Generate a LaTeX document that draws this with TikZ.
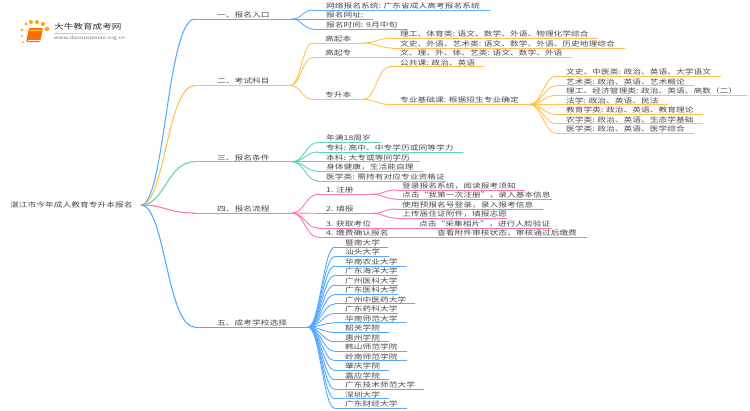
\documentclass[tikz,border=0pt]{standalone}
\usepackage{fontspec}
\setmainfont[FakeStretch=1.3]{Noto Sans CJK SC}
\definecolor{cA}{HTML}{5AAEFF}
\definecolor{cB}{HTML}{FFC24F}
\definecolor{cC}{HTML}{5FD8A4}
\definecolor{cD}{HTML}{FF74AC}
\definecolor{cE}{HTML}{55A9FF}
\definecolor{ink}{HTML}{4A4A4A}
\tikzset{
  label text/.style={anchor=base west,inner sep=0pt,text=ink,font=\fontsize{6.72}{8}\selectfont,yshift=1.6pt},
  rule line/.style={line width=0.9pt,line cap=round},
  link line/.style={line width=0.9pt},
  trunk line/.style={line width=1.1pt}
}
% name, start x, end x, y, text x, text, colour
\newcommand{\topic}[7]{%
  \coordinate (#1-s) at (#2,#4);
  \coordinate (#1-e) at (#3,#4);
  \node[label text] (#1) at (#5,#4) {#6};
  \draw[rule line,#7] (#1-s) -- (#1-e);
}
% from, to, colour, control distance
\newcommand{\linkto}[4]{%
  \draw[link line,#3] (#1-e) .. controls +(#4,0) and +(-#4,0) .. (#2-s);
}
\newcommand{\trunkto}[2]{%
  \draw[trunk line,#2] (root-e) .. controls +(24,0) and +(-28,0) .. (#1-s);
}
\begin{document}
\begin{tikzpicture}[x=1pt,y=-1pt]
\useasboundingbox (0,0) rectangle (750,410);
\fill[white] (0,0) rectangle (750,410);

% logo
\foreach \px/\py/\r in {22/30/1.4,26/24/1.7,31/22/2,37/22/2,43/24/2,47/29/2.2,22/36/1.2,23/42/1}
  \fill[orange!70!yellow] (\px,\py) circle (\r);
\fill[orange!85!red,rounded corners=1.2pt] (29,28) -- (43,28) -- (40,42) -- (26,42) -- cycle;
\fill[orange!45!yellow] (30,29.5) -- (41.5,29.5) -- (41,31) -- (29.6,31) -- cycle;
\draw[white,line width=0.4pt] (27.5,40) -- (39.5,40);
\node[anchor=west,inner sep=0pt,text=black!80,font=\fontsize{7.4}{9}\selectfont] (brand) at (54,27) {大牛教育成考网};
\node[anchor=west,inner sep=0pt,text=black!55,font=\fontsize{4.5}{6}\selectfont] (site) at (54,38.5) {www.daniuxuexiao.org.cn};
\shade[left color=black!25,right color=white] (54,33) rectangle (132,33.5);

% root
\node[anchor=west,inner sep=0pt,text=ink,font=\fontsize{6.72}{8}\selectfont] (root) at (10,205) {湛江市今年成人教育专升本报名};
\coordinate (root-e) at (141,205);

% branch 1
\topic{b1}{195}{292}{19}{217}{一、报名入口}{cA}
\trunkto{b1}{cA}
\topic{b1a}{313}{490}{10}{326}{网络报名系统: 广东省成人高考报名系统}{cA}
\topic{b1b}{313}{373}{19}{326}{报名网址:}{cA}
\topic{b1c}{313}{407}{29}{326}{报名时间: 9月中旬}{cA}
\linkto{b1}{b1a}{cA}{10}
\linkto{b1}{b1b}{cA}{10}
\linkto{b1}{b1c}{cA}{10}

% branch 2
\topic{b2}{195}{290}{85.5}{217}{二、考试科目}{cB}
\trunkto{b2}{cB}
\topic{b2a}{313}{363}{43}{325}{高起本}{cB}
\topic{b2b}{313}{572}{57.5}{325}{高起专}{cB}
\node[label text] (b2b1) at (400,57.5) {文、理、外、体、艺类: 语文、数学、外语};
\topic{b2c}{313}{363}{99.5}{325}{专升本}{cB}
\linkto{b2}{b2a}{cB}{11}
\linkto{b2}{b2b}{cB}{11}
\linkto{b2}{b2c}{cB}{11}
\topic{b2a1}{392}{598}{38}{400}{理工、体育类: 语文、数学、外语、物理化学综合}{cB}
\topic{b2a2}{392}{625}{48}{400}{文史、外语、艺术类: 语文、数学、外语、历史地理综合}{cB}
\linkto{b2a}{b2a1}{cB}{13}
\linkto{b2a}{b2a2}{cB}{13}
\topic{b2c1}{390}{484}{66.7}{400}{公共课: 政治、英语}{cB}
\topic{b2c2}{390}{530}{104.5}{400}{专业基础课: 根据招生专业确定}{cB}
\linkto{b2c}{b2c1}{cB}{13}
\linkto{b2c}{b2c2}{cB}{13}
\topic{m1}{556}{721}{76}{566}{文史、中医类: 政治、英语、大学语文}{cB}
\topic{m2}{556}{694}{85.7}{566}{艺术类: 政治、英语、艺术概论}{cB}
\topic{m3}{556}{747}{95.3}{566}{理工、经济管理类: 政治、英语、高数（二）}{cB}
\topic{m4}{556}{668}{104.7}{566}{法学: 政治、英语、民法}{cB}
\topic{m5}{556}{703}{114.3}{566}{教育学类: 政治、英语、教育理论}{cB}
\topic{m6}{556}{703}{123.7}{566}{农学类: 政治、英语、生态学基础}{cB}
\topic{m7}{556}{694}{133.3}{566}{医学类: 政治、英语、医学综合}{cB}
\foreach \k in {m1,m2,m3,m4,m5,m6,m7}{\linkto{b2c2}{\k}{cB}{11}}

% branch 3
\topic{b3}{195}{292}{161.7}{217}{三、报名条件}{cC}
\trunkto{b3}{cC}
\topic{c1}{318}{381}{142.5}{326}{年满18周岁}{cC}
\topic{c2}{318}{463}{152}{326}{专科: 高中、中专学历或同等学力}{cC}
\topic{c3}{318}{420}{161.7}{326}{本科: 大专或等同学历}{cC}
\topic{c4}{318}{423}{171.3}{326}{身体健康，生活能自理}{cC}
\topic{c5}{318}{446}{181}{326}{医学类: 需持有对应专业资格证}{cC}
\foreach \k in {c1,c2,c3,c4,c5}{\linkto{b3}{\k}{cC}{12}}

% branch 4
\topic{b4}{195}{292}{213}{217}{四、报名流程}{cD}
\trunkto{b4}{cD}
\topic{d1}{318}{372}{194.3}{326}{1. 注册}{cD}
\topic{d2}{318}{372}{213.3}{326}{2. 填报}{cD}
\topic{d3}{318}{552}{228}{326}{3. 获取考位}{cD}
\node[label text] (d3a) at (419,228) {点击“采集相片”，进行人脸验证};
\topic{d4}{318}{587}{237.3}{326}{4. 缴费确认报名}{cD}
\node[label text] (d4a) at (437,237.3) {查看附件审核状态，审核通过后缴费};
\foreach \k in {d1,d2,d3,d4}{\linkto{b4}{\k}{cD}{12}}
\topic{d1a}{396}{525}{190}{402}{登录报名系统，阅读报考须知}{cD}
\topic{d1b}{396}{552}{199}{402}{点击“我第一次注册”，录入基本信息}{cD}
\linkto{d1}{d1a}{cD}{12}
\linkto{d1}{d1b}{cD}{12}
\topic{d2a}{396}{543}{209}{402}{使用预报名号登录，录入报考信息}{cD}
\topic{d2b}{396}{507}{218}{402}{上传居住证附件，填报志愿}{cD}
\linkto{d2}{d2a}{cD}{12}
\linkto{d2}{d2b}{cD}{12}

% branch 5
\topic{b5}{195}{308}{327}{217}{五、成考学校选择}{cE}
\trunkto{b5}{cE}
\foreach \i/\t/\e in {1/暨南大学/388,2/汕头大学/389,3/华南农业大学/406,4/广东海洋大学/398,5/广州医科大学/398,6/广东医科大学/398,7/广州中医药大学/415,8/广东药科大学/398,9/华南师范大学/406,10/韶关学院/389,11/惠州学院/389,12/韩山师范学院/407,13/岭南师范学院/407,14/肇庆学院/389,15/嘉应学院/389,16/广东技术师范大学/424,17/深圳大学/389,18/广东财经大学/407}{
  \pgfmathsetmacro{\yy}{247+(\i-1)*9.49}
  \topic{s\i}{335}{\e}{\yy}{345}{\t}{cE}
  \linkto{b5}{s\i}{cE}{12}
}
\end{tikzpicture}
\end{document}
